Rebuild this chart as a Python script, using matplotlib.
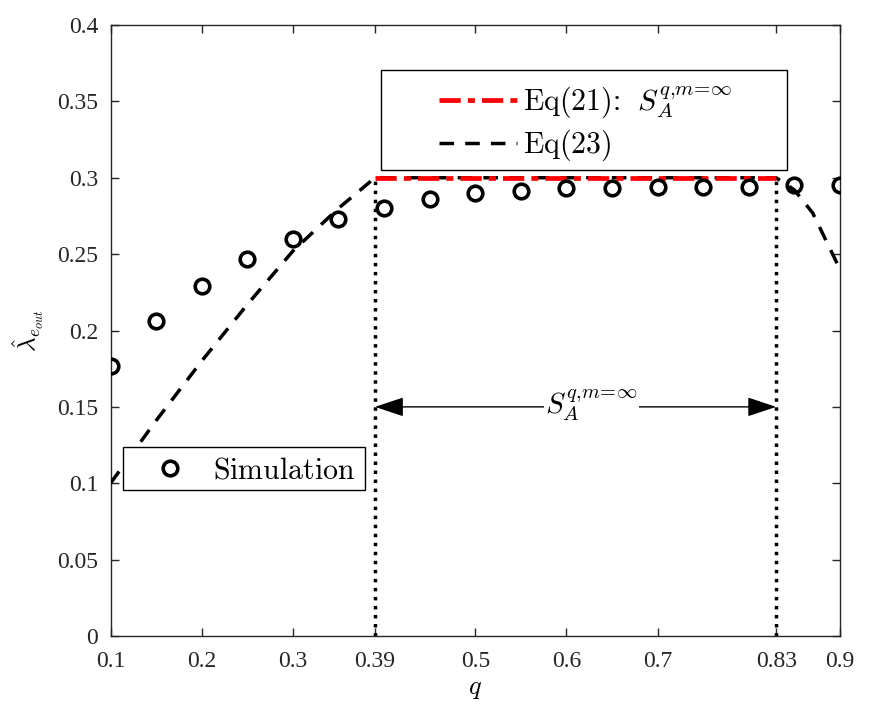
import matplotlib
matplotlib.use("Agg")
import matplotlib.pyplot as plt
from matplotlib.patches import Rectangle

plt.rcParams["mathtext.fontset"] = "cm"
plt.rcParams["font.family"] = ["Liberation Serif", "DejaVu Serif"]

# simulation points
q_sim = [0.10, 0.15, 0.20, 0.25, 0.30, 0.35, 0.40, 0.45, 0.50,
         0.55, 0.60, 0.65, 0.70, 0.75, 0.80, 0.85, 0.90]
lam_sim = [0.177, 0.206, 0.229, 0.247, 0.260, 0.273, 0.280, 0.286, 0.290,
           0.291, 0.293, 0.293, 0.294, 0.294, 0.294, 0.295, 0.295]

# Eq(23) curve
q_eq23 = [0.10, 0.15, 0.20, 0.25, 0.30, 0.35, 0.39, 0.83, 0.85, 0.87, 0.90]
lam_eq23 = [0.100, 0.141, 0.180, 0.217, 0.252, 0.280, 0.300, 0.300, 0.292, 0.277, 0.240]

# Eq(21) region
q_eq21 = [0.39, 0.83]
lam_eq21 = [0.30, 0.30]

q_lo, q_hi = 0.39, 0.83
arrow_y = 0.15

xticks = [0.1, 0.2, 0.3, 0.39, 0.5, 0.6, 0.7, 0.83, 0.9]
xticklabels = ["0.1", "0.2", "0.3", "0.39", "0.5", "0.6", "0.7", "0.83", "0.9"]
yticks = [0, 0.05, 0.1, 0.15, 0.2, 0.25, 0.3, 0.35, 0.4]
yticklabels = ["0", "0.05", "0.1", "0.15", "0.2", "0.25", "0.3", "0.35", "0.4"]

S_lbl = r"$S_A^{q{,}m\!=\!\infty}$"

fig = plt.figure(figsize=(8.72, 7.21), dpi=100)
ax = fig.add_axes([110.5 / 872, 1 - 636 / 721, 729.5 / 872, 611 / 721])

l23, = ax.plot(q_eq23, lam_eq23, color="black", linestyle=(0, (4.2, 3.2)),
               linewidth=2.5, zorder=3)
l21, = ax.plot(q_eq21, lam_eq21, color="red", linestyle=(0, (4.5, 1.5, 1.5, 1.5)),
               linewidth=3.4, zorder=4)
sim, = ax.plot(q_sim, lam_sim, linestyle="none", marker="o", markersize=10.5,
               markerfacecolor="none", markeredgecolor="black",
               markeredgewidth=2.6, zorder=5)

# dotted region boundaries
for qv in (q_lo, q_hi):
    ax.plot([qv, qv], [0, 0.3], color="black", linestyle=(0, (1, 1.6)),
            linewidth=2.5, zorder=2)

ax.annotate("", xy=(q_lo, arrow_y), xytext=(q_hi, arrow_y),
            arrowprops=dict(arrowstyle="<|-|>,head_length=1.8,head_width=0.6",
                            color="black", lw=1.0, shrinkA=0, shrinkB=0),
            zorder=3)
ax.text(0.6275, arrow_y + 0.001, S_lbl, fontsize=21,
        ha="center", va="center", zorder=4,
        bbox=dict(facecolor="white", edgecolor="none", pad=1))

ax.set_xlim(0.1, 0.9)
ax.set_ylim(0, 0.4)
ax.set_xticks(xticks)
ax.set_xticklabels(xticklabels)
ax.set_yticks(yticks)
ax.set_yticklabels(yticklabels)
ax.tick_params(direction="in", length=5.8, width=1.0, top=True, right=True,
               labelsize=17, colors="#262626")
ax.tick_params(axis="x", pad=11)
ax.tick_params(axis="y", pad=9)
for s in ax.spines.values():
    s.set_linewidth(1.0)
    s.set_color("#262626")

ax.set_xlabel("$q$", fontsize=19, labelpad=5)
ax.set_ylabel(r"$\hat{\lambda}_{e_{out}}$", fontsize=18, labelpad=8)

# legend boxes (MATLAB style)
ax.add_patch(Rectangle(((381 - 110.5) / 729.5, (636 - 170) / 611),
                       406 / 729.5, 100 / 611, transform=ax.transAxes,
                       facecolor="white", edgecolor="black", lw=1.0, zorder=6))
leg1 = ax.legend([l21, l23], [r"$\mathrm{Eq(21)\colon}\ \ $" + S_lbl, r"$\mathrm{Eq(23)}$"],
                 loc="upper left", bbox_to_anchor=((430 - 110.5) / 729.5, (636 - 76) / 611),
                 frameon=False, fontsize=21.5, handlelength=2.6, handletextpad=0.2,
                 labelspacing=0.25, borderpad=0.3, borderaxespad=0)
leg1.set_zorder(7)
ax.add_artist(leg1)

ax.add_patch(Rectangle(((123 - 110.5) / 729.5, (636 - 490) / 611),
                       242 / 729.5, 43 / 611, transform=ax.transAxes,
                       facecolor="white", edgecolor="black", lw=1.0, zorder=6))
leg2 = ax.legend([sim], [r"$\mathrm{Simulation}$"], loc="upper left",
                 bbox_to_anchor=((146 - 110.5) / 729.5, (636 - 449) / 611),
                 frameon=False, fontsize=21.5, handlelength=1.0, handletextpad=0.95,
                 borderpad=0.3, borderaxespad=0)
leg2.set_zorder(7)

fig.savefig("out.png", dpi=100)
